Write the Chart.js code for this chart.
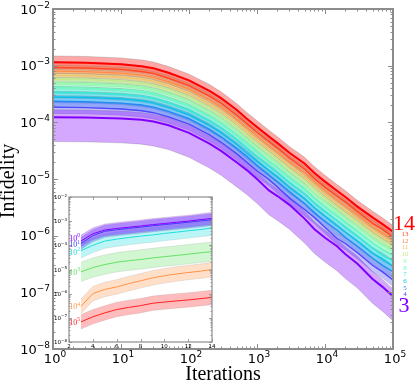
<!DOCTYPE html>
<html>
<head>
<meta charset="utf-8" />
<title>Infidelity vs iterations</title>
<script src="https://cdn.jsdelivr.net/npm/chart.js@4.4.0/dist/chart.umd.min.js"></script>
<style>
  body { margin: 0; background: #fff; }
  #wrap { position: relative; width: 415px; height: 383px; }
  #main { position: absolute; left: 0; top: 0; }
  #inset { position: absolute; left: 50px; top: 190px; }
</style>
</head>
<body>
<div id="wrap">
  <canvas id="main" width="415" height="383"></canvas>
  <canvas id="inset" width="170" height="160"></canvas>
</div>
<script>
// main plot: infidelity vs iterations, one curve per system size
var iterations = [1, 3, 10, 20, 30, 50, 100, 200, 300, 500, 700, 1000, 1500, 2000, 3000, 5000, 7000, 10000, 15000, 20000, 30000, 50000, 70000, 100000];
var sizes = [3, 4, 5, 6, 7, 8, 9, 10, 11, 12, 13, 14];

var infid3  = [1.23e-4, 1.22e-4, 1.17e-4, 1.11e-4, 1.03e-4, 8.9e-5, 6.5e-5, 4.2e-5, 3.1e-5, 1.97e-5, 1.45e-5, 1.0e-5, 6.3e-6, 5.0e-6, 3.5e-6, 2.0e-6, 1.3e-6, 9.2e-7, 6.5e-7, 4.7e-7, 3.2e-7, 1.72e-7, 1.25e-7, 8.5e-8];
var infid4  = [1.85e-4, 1.82e-4, 1.72e-4, 1.6e-4, 1.48e-4, 1.25e-4, 9.3e-5, 6.0e-5, 4.4e-5, 2.8e-5, 2.0e-5, 1.4e-5, 9.8e-6, 7.2e-6, 4.6e-6, 2.9e-6, 2.1e-6, 1.4e-6, 9.0e-7, 7.2e-7, 5.0e-7, 3.0e-7, 2.3e-7, 1.65e-7];
var infid5  = [2.35e-4, 2.31e-4, 2.18e-4, 2.02e-4, 1.86e-4, 1.56e-4, 1.16e-4, 7.5e-5, 5.5e-5, 3.5e-5, 2.55e-5, 1.75e-5, 1.15e-5, 9.0e-6, 6.0e-6, 3.7e-6, 2.5e-6, 1.8e-6, 1.25e-6, 9.3e-7, 6.5e-7, 4.0e-7, 3.0e-7, 2.3e-7];
var infid6  = [2.8e-4, 2.75e-4, 2.6e-4, 2.4e-4, 2.2e-4, 1.84e-4, 1.36e-4, 8.8e-5, 6.5e-5, 4.1e-5, 2.9e-5, 2.05e-5, 1.42e-5, 1.08e-5, 7.0e-6, 4.5e-6, 3.1e-6, 2.2e-6, 1.5e-6, 1.15e-6, 8.0e-7, 4.9e-7, 3.9e-7, 2.9e-7];
var infid7  = [3.4e-4, 3.33e-4, 3.13e-4, 2.9e-4, 2.66e-4, 2.22e-4, 1.65e-4, 1.07e-4, 7.9e-5, 5.0e-5, 3.6e-5, 2.5e-5, 1.68e-5, 1.3e-5, 8.8e-6, 5.5e-6, 3.8e-6, 2.65e-6, 1.85e-6, 1.42e-6, 9.8e-7, 6.1e-7, 4.5e-7, 3.6e-7];
var infid8  = [4.1e-4, 4.02e-4, 3.78e-4, 3.5e-4, 3.2e-4, 2.68e-4, 1.98e-4, 1.28e-4, 9.5e-5, 6.0e-5, 4.3e-5, 3.0e-5, 2.05e-5, 1.58e-5, 1.05e-5, 6.6e-6, 4.5e-6, 3.25e-6, 2.3e-6, 1.7e-6, 1.2e-6, 7.5e-7, 5.8e-7, 4.5e-7];
var infid9  = [4.9e-4, 4.8e-4, 4.5e-4, 4.15e-4, 3.8e-4, 3.2e-4, 2.35e-4, 1.52e-4, 1.13e-4, 7.1e-5, 5.0e-5, 3.55e-5, 2.45e-5, 1.88e-5, 1.25e-5, 7.9e-6, 5.5e-6, 3.9e-6, 2.7e-6, 2.05e-6, 1.45e-6, 9.1e-7, 7.0e-7, 5.5e-7];
var infid10 = [5.8e-4, 5.7e-4, 5.35e-4, 4.95e-4, 4.5e-4, 3.8e-4, 2.8e-4, 1.8e-4, 1.34e-4, 8.5e-5, 6.0e-5, 4.2e-5, 2.9e-5, 2.2e-5, 1.5e-5, 9.4e-6, 6.6e-6, 4.6e-6, 3.2e-6, 2.45e-6, 1.7e-6, 1.08e-6, 8.3e-7, 6.4e-7];
var infid11 = [6.8e-4, 6.65e-4, 6.25e-4, 5.8e-4, 5.3e-4, 4.4e-4, 3.25e-4, 2.1e-4, 1.57e-4, 9.9e-5, 7.0e-5, 4.9e-5, 3.4e-5, 2.6e-5, 1.7e-5, 1.08e-5, 7.7e-6, 5.4e-6, 3.7e-6, 2.8e-6, 2.0e-6, 1.25e-6, 9.8e-7, 7.3e-7];
var infid12 = [8.0e-4, 7.85e-4, 7.4e-4, 6.8e-4, 6.25e-4, 5.2e-4, 3.85e-4, 2.5e-4, 1.85e-4, 1.16e-4, 8.2e-5, 5.8e-5, 3.9e-5, 3.0e-5, 2.0e-5, 1.3e-5, 9.0e-6, 6.3e-6, 4.3e-6, 3.3e-6, 2.35e-6, 1.45e-6, 1.12e-6, 8.4e-7];
var infid13 = [9.3e-4, 9.1e-4, 8.6e-4, 7.9e-4, 7.3e-4, 6.0e-4, 4.45e-4, 2.9e-4, 2.15e-4, 1.35e-4, 9.6e-5, 6.7e-5, 4.6e-5, 3.55e-5, 2.35e-5, 1.5e-5, 1.02e-5, 7.2e-6, 5.0e-6, 3.9e-6, 2.7e-6, 1.65e-6, 1.3e-6, 9.5e-7];
var infid14 = [1.15e-3, 1.13e-3, 1.06e-3, 9.8e-4, 9.0e-4, 7.5e-4, 5.5e-4, 3.6e-4, 2.65e-4, 1.67e-4, 1.17e-4, 8.3e-5, 5.6e-5, 4.3e-5, 2.9e-5, 1.88e-5, 1.28e-5, 9.0e-6, 6.2e-6, 4.8e-6, 3.25e-6, 2.1e-6, 1.6e-6, 1.17e-6];

// spread of the shaded band around each curve, in decades (up / down)
var bandUp   = [0.13, 0.1, 0.1, 0.1, 0.1, 0.1, 0.1, 0.1, 0.1, 0.1, 0.1, 0.11];
var bandDown = [0.43, 0.11, 0.1, 0.1, 0.1, 0.1, 0.1, 0.1, 0.1, 0.1, 0.1, 0.11];

var colors = ['#8000ff', '#5148fc', '#238af5', '#0cc1e8', '#3ae8d7', '#68fcc1',
              '#97fca7', '#c5e88a', '#f3c16a', '#ff8a48', '#ff4824', '#ff0000'];

// inset: infidelity vs size at fixed iteration counts 10^0 .. 10^5
var insetSizes = [3, 4, 5, 6, 7, 8, 9, 10, 11, 12, 13, 14];
var insetExp = ['0', '1', '2', '3', '4', '5'];
var insetIt0 = [1.5e-4, 3.0e-4, 4.3e-4, 5.0e-4, 5.6e-4, 6.3e-4, 7.2e-4, 8.0e-4, 9.0e-4, 1.0e-3, 1.15e-3, 1.3e-3];
var insetIt1 = [1.2e-4, 2.5e-4, 3.8e-4, 4.4e-4, 5.0e-4, 5.6e-4, 6.4e-4, 7.2e-4, 8.0e-4, 9.0e-4, 1.02e-3, 1.15e-3];
var insetIt2 = [6.0e-5, 1.0e-4, 1.5e-4, 1.8e-4, 2.1e-4, 2.4e-4, 2.7e-4, 3.1e-4, 3.5e-4, 4.0e-4, 4.5e-4, 5.2e-4];
var insetIt3 = [8.0e-6, 1.2e-5, 1.6e-5, 2.0e-5, 2.3e-5, 2.6e-5, 3.0e-5, 3.4e-5, 3.8e-5, 4.3e-5, 4.9e-5, 5.5e-5];
var insetIt4 = [3.0e-7, 1.0e-6, 1.5e-6, 1.9e-6, 2.6e-6, 3.4e-6, 4.5e-6, 5.5e-6, 6.5e-6, 7.5e-6, 8.5e-6, 1.0e-5];
var insetIt5 = [6.8e-8, 1.1e-7, 1.6e-7, 2.2e-7, 2.7e-7, 3.2e-7, 4.0e-7, 4.5e-7, 5.0e-7, 5.5e-7, 6.2e-7, 7.0e-7];
var insetBand = [0.25, 0.25, 0.3, 0.4, 0.3, 0.3];
var insetColors = ['#8000ff', '#3a3aff', '#20dede', '#66e066', '#ff9448', '#ff2020'];

function alpha(hex, a) {
  var r = parseInt(hex.substr(1, 2), 16), g = parseInt(hex.substr(3, 2), 16), b = parseInt(hex.substr(5, 2), 16);
  return 'rgba(' + r + ',' + g + ',' + b + ',' + a + ')';
}

function logTicks(lo, hi) {
  var out = [];
  for (var e = lo; e <= hi; e++) {
    out.push({ v: Math.pow(10, e), major: true, e: e });
    if (e < hi) for (var k = 2; k < 10; k++) out.push({ v: k * Math.pow(10, e), major: false });
  }
  return out;
}

function drawPow(ctx, exp, x, y, align, big, small, family, color) {
  ctx.fillStyle = color || '#000';
  ctx.font = big + 'px ' + family;
  var w1 = ctx.measureText('10').width;
  ctx.font = small + 'px ' + family;
  var w2 = ctx.measureText(exp).width;
  var x0 = align === 'right' ? x - w1 - w2 : align === 'center' ? x - (w1 + w2) / 2 : x;
  ctx.textAlign = 'left';
  ctx.textBaseline = 'alphabetic';
  ctx.font = big + 'px ' + family;
  ctx.fillText('10', x0, y);
  ctx.font = small + 'px ' + family;
  ctx.fillText(exp, x0 + w1, y - big * 0.45);
}

function drawFrame(chart, xt, yt, st) {
  var ctx = chart.ctx, a = chart.chartArea, xs = chart.scales.x, ys = chart.scales.y;
  ctx.save();
  ctx.strokeStyle = st.color;
  ctx.lineWidth = st.tickWidth;
  ctx.beginPath();
  xt.forEach(function (t) {
    var px = Math.round(xs.getPixelForValue(t.v)) + 0.5, len = t.major ? st.major : st.minor;
    ctx.moveTo(px, a.bottom); ctx.lineTo(px, a.bottom - len);
    ctx.moveTo(px, a.top); ctx.lineTo(px, a.top + len);
  });
  yt.forEach(function (t) {
    var py = Math.round(ys.getPixelForValue(t.v)) + 0.5, len = t.major ? st.major : st.minor;
    ctx.moveTo(a.left, py); ctx.lineTo(a.left + len, py);
    ctx.moveTo(a.right, py); ctx.lineTo(a.right - len, py);
  });
  ctx.stroke();
  ctx.lineWidth = st.frameWidth;
  ctx.strokeRect(a.left, a.top, a.right - a.left, a.bottom - a.top);
  ctx.restore();
}

var series = [infid3, infid4, infid5, infid6, infid7, infid8, infid9, infid10, infid11, infid12, infid13, infid14];
var datasets = [];
series.forEach(function (vals, k) {
  datasets.push({
    data: vals.map(function (v, i) { return { x: iterations[i], y: v * Math.pow(10, bandUp[k]) }; }),
    borderColor: 'rgba(90,90,90,0.35)', borderWidth: 0.7,
    backgroundColor: alpha(colors[k], 0.34), fill: '+1', order: 2
  });
  datasets.push({
    data: vals.map(function (v, i) { return { x: iterations[i], y: v / Math.pow(10, bandDown[k]) }; }),
    borderColor: 'rgba(90,90,90,0.35)', borderWidth: 0.7, fill: false, order: 2
  });
});
series.forEach(function (vals, k) {
  datasets.push({
    data: vals.map(function (v, i) { return { x: iterations[i], y: v }; }),
    borderColor: colors[k], borderWidth: k === 11 || k === 0 ? 2 : 1.4, fill: false, order: 1 + (11 - k) * 0.01
  });
});

var mainDeco = {
  id: 'mainDeco',
  afterDraw: function (chart) {
    var ctx = chart.ctx, xs = chart.scales.x, ys = chart.scales.y;
    drawFrame(chart, logTicks(0, 5), logTicks(-8, -2), { color: '#8c8c8c', tickWidth: 1, major: 5, minor: 2.5, frameWidth: 2 });
    ctx.save();
    var fam = '"DejaVu Sans", sans-serif';
    for (var e = -8; e <= -2; e++) {
      drawPow(ctx, '\u2212' + (-e), 50, ys.getPixelForValue(Math.pow(10, e)) + 4.5, 'right', 13, 9, fam);
    }
    for (var d = 0; d <= 5; d++) {
      drawPow(ctx, String(d), xs.getPixelForValue(Math.pow(10, d)) + 2, 363, 'center', 13, 9, fam);
    }
    ctx.fillStyle = '#000';
    ctx.font = '20px "Liberation Serif", serif';
    ctx.textAlign = 'center';
    ctx.textBaseline = 'alphabetic';
    ctx.fillText('Iterations', (chart.chartArea.left + chart.chartArea.right) / 2, 380);
    ctx.save();
    ctx.translate(9, 181);
    ctx.rotate(-Math.PI / 2);
    ctx.textBaseline = 'middle';
    ctx.fillText('Infidelity', 0, 0);
    ctx.restore();
    // size labels at the right edge
    ctx.textAlign = 'center';
    ctx.textBaseline = 'alphabetic';
    ctx.font = '22px "Liberation Serif", serif';
    ctx.fillStyle = colors[11];
    ctx.fillText(String(sizes[11]), 404, 230);
    ctx.fillStyle = colors[0];
    ctx.fillText(String(sizes[0]), 404, 312);
    ctx.font = '7px "Liberation Serif", serif';
    for (var k = 10; k >= 1; k--) {
      ctx.fillStyle = colors[k];
      ctx.fillText(String(sizes[k]), 405, 236 + (10 - k) * 6.7);
    }
    ctx.restore();
  }
};

new Chart(document.getElementById('main'), {
  type: 'line',
  data: { datasets: datasets },
  options: {
    responsive: false, animation: false, devicePixelRatio: 1,
    layout: { padding: { left: 53, right: 22, top: 9, bottom: 34 } },
    plugins: { legend: { display: false }, tooltip: { enabled: false } },
    elements: { point: { radius: 0 }, line: { tension: 0 } },
    scales: {
      x: { type: 'logarithmic', min: 1, max: 1e5, display: false },
      y: { type: 'logarithmic', min: 1e-8, max: 1e-2, display: false }
    }
  },
  plugins: [mainDeco]
});

// inset chart
var insetSeries = [insetIt0, insetIt1, insetIt2, insetIt3, insetIt4, insetIt5];
var insetSets = [];
insetSeries.forEach(function (vals, k) {
  insetSets.push({
    data: vals.map(function (v, i) { return { x: insetSizes[i], y: v * Math.pow(10, insetBand[k]) }; }),
    borderColor: 'rgba(90,90,90,0.25)', borderWidth: 0.5,
    backgroundColor: alpha(insetColors[k], 0.3), fill: '+1', order: 2
  });
  insetSets.push({
    data: vals.map(function (v, i) { return { x: insetSizes[i], y: v / Math.pow(10, insetBand[k]) }; }),
    borderColor: 'rgba(90,90,90,0.25)', borderWidth: 0.5, fill: false, order: 2
  });
});
insetSeries.forEach(function (vals, k) {
  insetSets.push({
    data: vals.map(function (v, i) { return { x: insetSizes[i], y: v }; }),
    borderColor: insetColors[k], borderWidth: 1, fill: false, order: 1
  });
});

var insetDeco = {
  id: 'insetDeco',
  beforeDraw: function (chart) {
    var a = chart.chartArea, ctx = chart.ctx;
    ctx.save();
    ctx.fillStyle = '#fff';
    ctx.fillRect(a.left, a.top, a.right - a.left, a.bottom - a.top);
    ctx.restore();
  },
  afterDraw: function (chart) {
    var ctx = chart.ctx, xs = chart.scales.x, ys = chart.scales.y, a = chart.chartArea;
    var xt = [2, 4, 6, 8, 10, 12, 14].map(function (v) { return { v: v, major: true }; });
    drawFrame(chart, xt, logTicks(-8, -2), { color: '#8c8c8c', tickWidth: 0.8, major: 3, minor: 1.5, frameWidth: 1.2 });
    ctx.save();
    var fam = '"DejaVu Sans", sans-serif';
    for (var e = -8; e <= -2; e++) {
      drawPow(ctx, '\u2212' + (-e), a.left - 2, ys.getPixelForValue(Math.pow(10, e)) + 2, 'right', 5.5, 4, fam);
    }
    ctx.fillStyle = '#000';
    ctx.font = '5.5px ' + fam;
    ctx.textAlign = 'center';
    xt.forEach(function (t) { ctx.fillText(String(t.v), xs.getPixelForValue(t.v), a.bottom + 6); });
    var shift = [-3, 1, 1, 0, 0, 0];
    insetSeries.forEach(function (vals, k) {
      var py = ys.getPixelForValue(vals[0]) + 3 + shift[k];
      drawPow(ctx, insetExp[k], xs.getPixelForValue(insetSizes[0]) - 1, py, 'right', 8, 5.5, '"Liberation Serif", serif', insetColors[k]);
    });
    ctx.restore();
  }
};

new Chart(document.getElementById('inset'), {
  type: 'line',
  data: { datasets: insetSets },
  options: {
    responsive: false, animation: false, devicePixelRatio: 1,
    layout: { padding: { left: 19, right: 8, top: 7, bottom: 8 } },
    plugins: { legend: { display: false }, tooltip: { enabled: false } },
    elements: { point: { radius: 0 }, line: { tension: 0 } },
    scales: {
      x: { type: 'linear', min: 2, max: 14, display: false },
      y: { type: 'logarithmic', min: 1e-8, max: 1e-2, display: false }
    }
  },
  plugins: [insetDeco]
});
</script>
</body>
</html>
